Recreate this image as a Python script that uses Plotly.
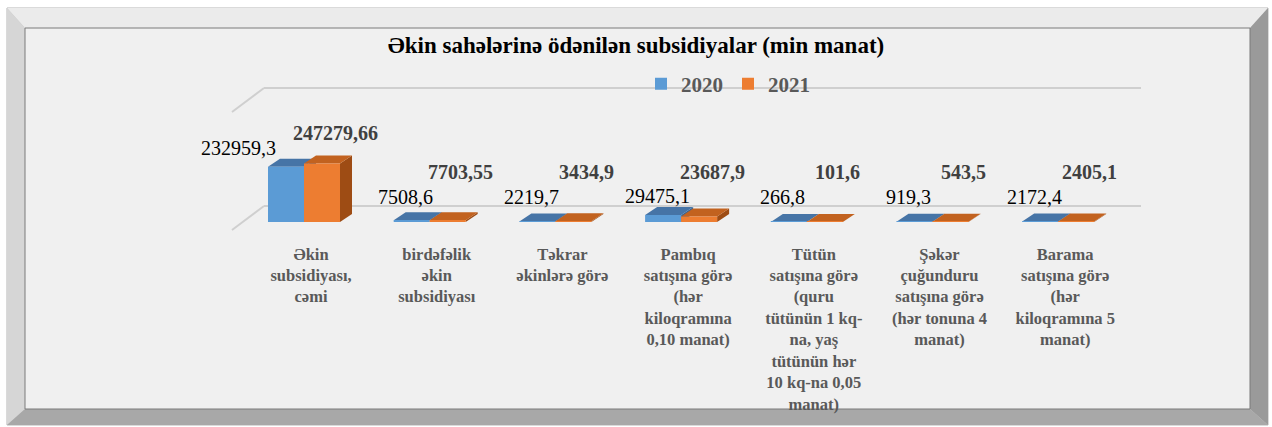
import plotly.graph_objects as go

# ---------------- data ----------------
categories = [
    "Əkin<br>subsidiyası,<br>cəmi",
    "birdəfəlik<br>əkin<br>subsidiyası",
    "Təkrar<br>əkinlərə görə",
    "Pambıq<br>satışına görə<br>(hər<br>kiloqramına<br>0,10 manat)",
    "Tütün<br>satışına görə<br>(quru<br>tütünün 1 kq-<br>na, yaş<br>tütünün hər<br>10 kq-na 0,05<br>manat)",
    "Şəkər<br>çuğunduru<br>satışına görə<br>(hər tonuna 4<br>manat)",
    "Barama<br>satışına görə<br>(hər<br>kiloqramına 5<br>manat)",
]
series_names = ["2020", "2021"]
values_2020 = [232959.3, 7508.6, 2219.7, 29475.1, 266.8, 919.3, 2172.4]
values_2021 = [247279.66, 7703.55, 3434.9, 23687.9, 101.6, 543.5, 2405.1]
title_text = "Əkin sahələrinə ödənilən subsidiyalar (min manat)"

# ---------------- layout geometry (pixels) ----------------
W, H = 1272, 427
C0, STEP = 304, 125.7          # first category centre, category spacing
BASE_PX, TOP_PX = 222, 87      # plot bottom / top (pixels from top)
Y_MAX = 570000
PLOT_H = BASE_PX - TOP_PX
UPP = Y_MAX / PLOT_H           # value units per pixel
BARGAP = 1 - 72 / STEP
BW = (1 - BARGAP) / 2          # width of one bar in category units
DX = 12 / STEP                 # 3D depth offsets
DY = 8 * UPP

FRONT = ["#5B9BD5", "#ED7D31"]
TOP = ["#4674A6", "#C2621F"]
SIDE = ["#3B6592", "#9E4C14"]
SERIF = "Liberation Serif, Times New Roman, serif"

n = len(categories)
xs = list(range(n))

fig = go.Figure()
series = [values_2020, values_2021]
for s, (name, vals) in enumerate(zip(series_names, series)):
    fig.add_trace(go.Bar(
        x=xs, y=vals, name=name,
        marker=dict(color=FRONT[s], line=dict(width=0)),
        hoverinfo="x+y",
    ))

shapes = []
# frame (bevel) and inner background
shapes.append(dict(type="rect", xref="paper", yref="paper",
                   x0=7 / W, x1=1268 / W, y0=1 - 425 / H, y1=1 - 8 / H,
                   fillcolor="#c9c9c9", line=dict(color="#b5b5b5", width=1), layer="below"))
shapes.append(dict(type="path", xref="paper", yref="paper",
                   path=f"M {7/W},{1-8/H} L {1268/W},{1-8/H} L {1250/W},{1-28/H} L {25/W},{1-28/H} Z",
                   fillcolor="#ebebeb", line=dict(width=0), layer="below"))
shapes.append(dict(type="path", xref="paper", yref="paper",
                   path=f"M {7/W},{1-8/H} L {25/W},{1-28/H} L {25/W},{1-409/H} L {7/W},{1-425/H} Z",
                   fillcolor="#d6d6d6", line=dict(width=0), layer="below"))
shapes.append(dict(type="path", xref="paper", yref="paper",
                   path=f"M {1268/W},{1-8/H} L {1250/W},{1-28/H} L {1250/W},{1-409/H} L {1268/W},{1-425/H} Z",
                   fillcolor="#9a9a9a", line=dict(width=0), layer="below"))
shapes.append(dict(type="path", xref="paper", yref="paper",
                   path=f"M {7/W},{1-425/H} L {25/W},{1-409/H} L {1250/W},{1-409/H} L {1268/W},{1-425/H} Z",
                   fillcolor="#a8a8a8", line=dict(width=0), layer="below"))
shapes.append(dict(type="rect", xref="paper", yref="paper",
                   x0=25 / W, x1=1250 / W, y0=1 - 409 / H, y1=1 - 28 / H,
                   fillcolor="#f0f0f0", line=dict(color="#7a7a7a", width=1), layer="below"))
# 3D wall edges
for yb in (88, 206):
    shapes.append(dict(type="line", xref="paper", yref="paper",
                       x0=264 / W, x1=1141 / W, y0=1 - yb / H, y1=1 - yb / H,
                       line=dict(color="#cfcfcf", width=2), layer="below"))
    shapes.append(dict(type="line", xref="paper", yref="paper",
                       x0=264 / W, x1=232 / W, y0=1 - yb / H, y1=1 - (yb + 24) / H,
                       line=dict(color="#cfcfcf", width=2), layer="below"))

# 3D faces of bars derived from the data
for s, vals in enumerate(series):
    for i, v in enumerate(vals):
        xl = i - BW + s * BW
        xr = xl + BW
        shapes.append(dict(type="path", xref="x", yref="y", layer="below",
                           path=f"M {xr},{0} L {xr+DX},{DY} L {xr+DX},{v+DY} L {xr},{v} Z",
                           fillcolor=SIDE[s], line=dict(width=0)))
        shapes.append(dict(type="path", xref="x", yref="y", layer="below",
                           path=f"M {xl},{v} L {xr},{v} L {xr+DX},{v+DY} L {xl+DX},{v+DY} Z",
                           fillcolor=TOP[s], line=dict(width=0)))

# data labels
annotations = []
for i, v in enumerate(values_2020):
    top_px = v / UPP
    tall = top_px > 40
    y_px = max(top_px + 19, 25)
    annotations.append(dict(
        x=i - BW / 2, y=y_px * UPP, xref="x", yref="y",
        text=f"{v}".replace(".", ","), showarrow=False,
        xanchor="right" if tall else "center", yanchor="middle",
        xshift=-8 if tall else -6,
        font=dict(family=SERIF, size=20, color="#000000"),
    ))
for i, v in enumerate(values_2021):
    top_px = v / UPP
    y_px = max(top_px + 30, 50)
    annotations.append(dict(
        x=i + BW / 2, y=y_px * UPP, xref="x", yref="y",
        text=f"<b>{v}</b>".replace(".", ","), showarrow=False,
        xanchor="center", yanchor="middle", xshift=13,
        font=dict(family=SERIF, size=20, color="#404040"),
    ))

fig.update_layout(
    width=W, height=H,
    margin=dict(l=0, r=0, t=0, b=0),
    paper_bgcolor="#ffffff",
    plot_bgcolor="rgba(0,0,0,0)",
    barmode="group",
    bargap=BARGAP,
    bargroupgap=0,
    title=dict(text=f"<b>{title_text}</b>", x=0.5, xanchor="center",
               y=1 - 45 / H, yanchor="middle",
               font=dict(family=SERIF, size=23, color="#000000")),
    legend=dict(orientation="h", x=728 / W, xanchor="center",
                y=1 - 84 / H, yanchor="middle",
                font=dict(family=SERIF, size=21, color="#595959", weight="bold"),
                bgcolor="rgba(0,0,0,0)", itemwidth=30,
                traceorder="normal"),
    xaxis=dict(
        domain=[(C0 - STEP / 2) / W, (C0 + (n - 0.5) * STEP) / W],
        range=[-0.5, n - 0.5],
        tickmode="array", tickvals=xs, ticktext=[f"<b>{c}</b>" for c in categories],
        tickangle=0, showgrid=False, zeroline=False, showline=False,
        ticks="", ticklabelstandoff=20, ticklabelshift=7,
        tickfont=dict(family=SERIF, size=16.5, color="#595959"),
        automargin=False, fixedrange=True,
    ),
    yaxis=dict(
        domain=[1 - BASE_PX / H, 1 - TOP_PX / H],
        range=[0, Y_MAX], visible=False, showgrid=False, zeroline=False,
        automargin=False, fixedrange=True,
    ),
    shapes=shapes,
    annotations=annotations,
    showlegend=True,
)

fig.write_html(
    "out.html",
    config={"displayModeBar": False},
    post_script="document.body.style.margin='0';document.body.style.overflow='hidden';",
)
